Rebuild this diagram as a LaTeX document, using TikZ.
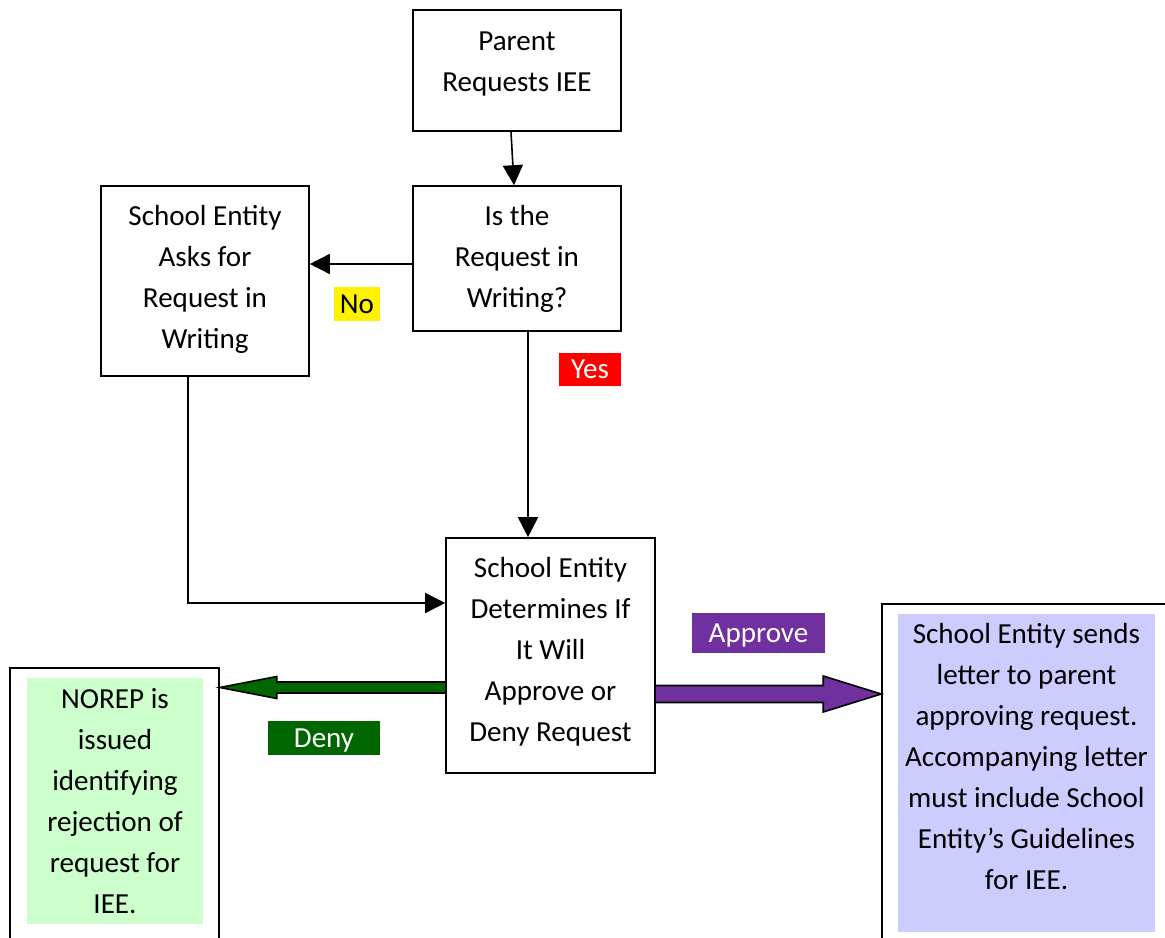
\documentclass[tikz,border=0pt]{standalone}
\usepackage{fontspec}
\setmainfont{Carlito}
\usetikzlibrary{calc,arrows.meta}
\definecolor{denyg}{RGB}{0,102,0}
\definecolor{apprp}{RGB}{112,48,160}
\definecolor{lgreen}{RGB}{204,255,204}
\definecolor{lblue}{RGB}{204,204,255}
\newcommand{\dpfix}[1]{\rule[-#1]{0pt}{0pt}}
\newcommand{\htfix}[1]{\rule{0pt}{#1}}
\begin{document}
\begin{tikzpicture}[x=0.75pt,y=-0.75pt,
 txt/.style={font=\fontsize{21.8pt}{30.75pt}\selectfont, align=center, inner sep=0pt},
 box/.style={txt, draw=black, line width=1.2pt, fill=white},
 lab/.style={font=\fontsize{21.8pt}{26pt}\selectfont, inner sep=0pt},
 conn/.style={line width=1.2pt, -{Triangle[length=15pt,width=15pt]}},
 block/.style={line width=1.2pt, draw=black}
]
\useasboundingbox (0,0) rectangle (1165,938);
\clip (0,0) rectangle (1165,938);

% boxes
\node[box, minimum width=156pt, minimum height=90.75pt] (parent) at (517,70.5) {Parent\\Requests IEE\dpfix{13.5pt}};
\node[box, minimum width=156pt, minimum height=108.75pt] (is) at (517,258.5) {Is the\\Request in\\Writing?};
\node[box, minimum width=156pt, minimum height=142.5pt] (asks) at (205,281) {School Entity\\Asks for\\Request in\\Writing\dpfix{6pt}};
\node[box, minimum width=156.75pt, minimum height=176.25pt] (det) at (550.5,655.5) {School Entity\\Determines If\\It Will\\Approve or\\Deny Request\dpfix{9pt}};

\node[box, minimum width=156.75pt, minimum height=211.5pt] (norep) at (114.5,809) {};
\node[txt, fill=lgreen, minimum width=132pt, minimum height=184.5pt] (norepin) at (115,801) {NOREP is\\issued\\identifying\\rejection of\\request for\\IEE.};

\node[box, minimum width=219.75pt, minimum height=259.5pt] (rbox) at (1028.5,777) {};
\node[txt, fill=lblue, minimum width=192.75pt, minimum height=238.5pt] (rin) at (1026.5,773) {};
\node[txt] (rtext) at (1026.5,757) {School Entity sends\\letter to parent\\approving request.\\Accompanying letter\\must include School\\Entity’s Guidelines\\for IEE.};

% connectors
\coordinate (pS) at ($(parent.south)+(-6,0)$);
\coordinate (iN) at ($(is.north)+(-3,0)$);
\draw[conn] (pS) -- (iN);
\draw[conn] ($(is.west)+(0,5.5)$) -- ($(asks.east)+(0,-17)$);
\coordinate (iS) at ($(is.south)+(11,0)$);
\coordinate (dN) at (iS |- det.north);
\draw[conn] (iS) -- (dN);
\coordinate (aS) at ($(asks.south)+(-17,0)$);
\coordinate (dW) at ($(det.west)+(0,-52.5)$);
\draw[conn] (aS) |- (dW);

% block arrows
\coordinate (dA) at ($(det.west)+(0,32)$);
\coordinate (dB) at (norep.east |- dA);
\draw[block, fill=denyg] ($(dA)+(0,-5.5)$) -- ($(dB)+(57,-5.5)$) -- ($(dB)+(57,-11)$) -- (dB) -- ($(dB)+(57,11)$) -- ($(dB)+(57,5.5)$) -- ($(dA)+(0,5.5)$);

\coordinate (aA) at ($(det.east)+(0,38.5)$);
\coordinate (aB) at (rbox.west |- aA);
\draw[block, fill=apprp] ($(aA)+(0,-8.5)$) -- ($(aB)+(-58,-8.5)$) -- ($(aB)+(-58,-18)$) -- (aB) -- ($(aB)+(-58,18)$) -- ($(aB)+(-58,8.5)$) -- ($(aA)+(0,8.5)$);

% labels
\node[lab, fill=yellow, minimum width=34.5pt, minimum height=25.5pt] (no) at (357,304) {No};
\node[lab, fill=red, text=white, minimum width=46.5pt, minimum height=24.75pt] (yes) at (590,369.5) {Yes};
\node[lab, fill=denyg, text=white, minimum width=84pt, minimum height=25.5pt] (deny) at (324,738) {\htfix{18.5pt}Deny};
\node[lab, fill=apprp, text=white, minimum width=99.75pt, minimum height=30pt] (approve) at (758.5,633) {\htfix{18.5pt}Approve};
\end{tikzpicture}
\end{document}
